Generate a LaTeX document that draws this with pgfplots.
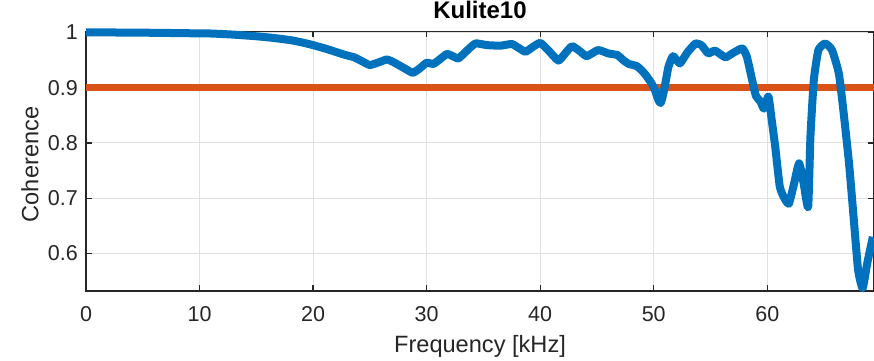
\documentclass[border=0pt]{standalone}
\usepackage{pgfplots}
\pgfplotsset{compat=1.18}
\usepackage{fontspec}
\setmainfont{Liberation Sans}
\definecolor{mblue}{rgb}{0,0.447,0.741}
\definecolor{morange}{rgb}{0.85,0.325,0.098}
\definecolor{maxis}{rgb}{0.15,0.15,0.15}
\begin{document}
\begin{tikzpicture}
\useasboundingbox (-86pt,-69pt) rectangle (788pt,291pt);
\begin{axis}[
  at={(0pt,0pt)}, anchor=south west,
  scale only axis, width=788pt, height=259.7pt,
  xmin=0, xmax=69.4, ymin=0.532, ymax=1.002,
  xtick={0,10,20,30,40,50,60},
  ytick={0.6,0.7,0.8,0.9,1},
  yticklabels={0.6,0.7,0.8,0.9,1},
  /pgf/number format/assume math mode=true,
  grid=major,
  major grid style={color=black!12, line width=0.9pt},
  tick align=inside, major tick length=6pt,
  axis line style={maxis, line width=1.3pt},
  tick style={maxis, line width=1.3pt},
  ticklabel style={font=\fontsize{21.5}{25}\selectfont, text=maxis},
  xticklabel style={inner sep=0pt, yshift=-15pt},
  yticklabel style={inner sep=0pt, xshift=-8pt},
  title={Kulite10},
  title style={at={(axis description cs:0.5,1.0258)}, anchor=base, font=\bfseries\fontsize{24}{28}\selectfont, inner sep=0pt},
  xlabel={Frequency [kHz]},
  xlabel style={at={(axis description cs:0.5,-0.2365)}, anchor=base, font=\fontsize{23.6}{28}\selectfont, text=maxis, inner sep=0pt},
  ylabel={Coherence},
  ylabel style={at={(axis description cs:-0.0603,0.487)}, anchor=base, font=\fontsize{23.6}{28}\selectfont, text=maxis, inner sep=0pt},
  clip=false,
]
\addplot[morange, line width=7pt, line cap=butt] coordinates {(0,0.9) (69.4,0.9)};
\addplot[mblue, line width=8pt, line join=round, line cap=butt, smooth, tension=0.3] coordinates {
(0,1.000) (3,0.9998) (6,0.9993) (9,0.9985) (11,0.998) (13,0.996) (15,0.993) (16.5,0.990) (18,0.986) (19,0.982)
(20,0.977) (21.2,0.970) (22.7,0.960) (23.6,0.955) (24.3,0.948) (25.0,0.941) (25.8,0.946) (26.5,0.951) (27.1,0.946)
(27.7,0.939) (28.3,0.932) (28.8,0.927) (29.4,0.935) (30.0,0.945) (30.6,0.943) (31.2,0.952) (31.8,0.961) (32.3,0.957)
(32.8,0.953) (33.5,0.966) (34.3,0.980) (35.3,0.977) (36.5,0.976) (37.5,0.979) (38.1,0.972) (38.7,0.965) (39.3,0.973)
(40.0,0.981) (40.7,0.968) (41.6,0.949) (42.2,0.962) (42.8,0.975) (43.5,0.966) (44.1,0.957) (45.1,0.968) (46.0,0.962)
(46.8,0.959) (47.3,0.950) (47.8,0.943) (48.5,0.939) (49.0,0.930) (49.4,0.920) (49.8,0.908) (50.1,0.896) (50.4,0.878)
(50.6,0.872) (50.8,0.885) (51.0,0.905) (51.3,0.938) (51.7,0.957) (52.3,0.944) (52.9,0.962) (53.3,0.972) (53.7,0.980)
(54.2,0.977) (54.8,0.962) (55.4,0.967) (56.3,0.955) (57.0,0.963) (57.8,0.971) (58.2,0.956) (58.6,0.920) (59.0,0.885)
(59.4,0.875) (59.7,0.862) (60.1,0.884) (60.4,0.840) (60.7,0.793) (61.1,0.721) (61.5,0.700) (61.9,0.690) (62.3,0.721)
(62.8,0.763) (63.2,0.727) (63.6,0.684) (63.8,0.811) (64.1,0.914) (64.5,0.968) (65.1,0.980) (65.7,0.968) (66.3,0.926)
(66.7,0.859) (67.2,0.763) (67.6,0.666) (68.0,0.570) (68.4,0.537) (68.8,0.582) (69.3,0.630)
};
\end{axis}
\end{tikzpicture}
\end{document}
